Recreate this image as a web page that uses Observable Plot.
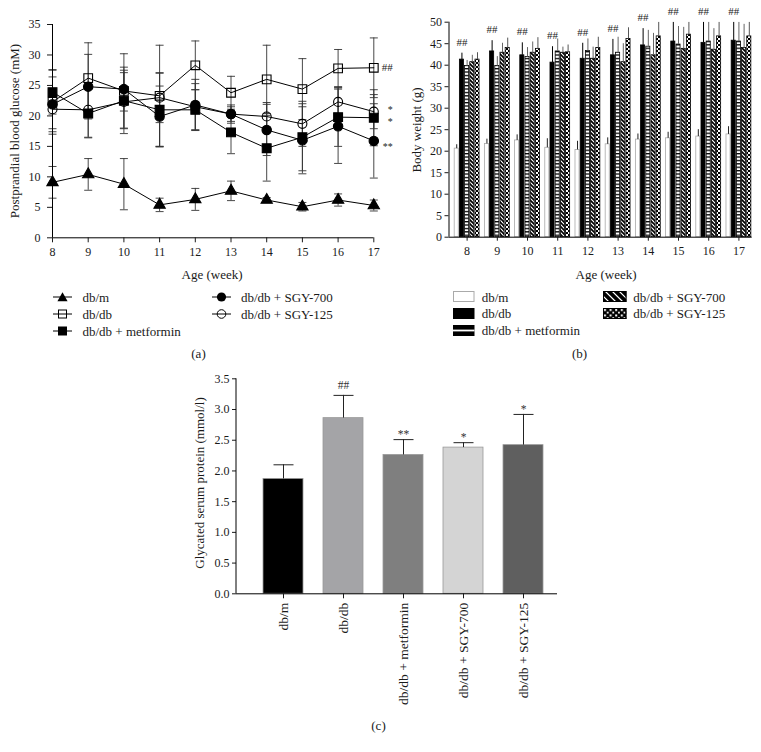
<!DOCTYPE html>
<html><head><meta charset="utf-8">
<script src="https://cdn.jsdelivr.net/npm/d3@7"></script>
<script src="https://cdn.jsdelivr.net/npm/@observablehq/plot@0.6"></script>
<style>
body{margin:0;background:#fff;}
#root{position:relative;width:761px;height:752px;overflow:hidden;font-family:"Liberation Serif","Times New Roman",serif;color:#1a1a1a;background:#fff;}
.lbl{position:absolute;white-space:nowrap;line-height:1;font-family:"Liberation Serif","Times New Roman",serif;font-weight:normal;color:#1a1a1a;}
.sw{position:absolute;overflow:visible;}
</style></head><body><div id="root"></div>
<script>
// ---------- shared ----------
const weeks  = [8, 9, 10, 11, 12, 13, 14, 15, 16, 17];
const groups = ["db/m", "db/db", "db/db + metformin", "db/db + SGY-700", "db/db + SGY-125"];

// ---------- (a) Postprandial blood glucose (mM): mean and SD ----------
const glcDbm    = [9.1, 10.4, 8.8, 5.4, 6.3, 7.7, 6.2, 5.1, 6.2, 5.3];
const glcDbmSD  = [2.6, 2.6, 4.2, 1.1, 1.8, 1.6, 0.4, 0.7, 1.0, 0.9];
const glcDbdb   = [22.3, 26.2, 24.1, 23.3, 28.3, 23.8, 26.0, 24.4, 27.8, 27.9];
const glcDbdbSD = [5.3, 5.8, 6.1, 8.3, 4.0, 2.7, 5.6, 5.0, 3.1, 4.9];
const glcMet    = [23.9, 20.4, 22.5, 21.0, 21.0, 17.3, 14.7, 16.5, 19.8, 19.7];
const glcMetSD  = [3.6, 4.0, 4.6, 6.0, 3.3, 3.5, 5.4, 5.5, 4.8, 4.6];
const glc700    = [21.9, 24.8, 24.4, 19.9, 21.8, 20.3, 17.7, 16.0, 18.3, 15.9];
const glc700SD  = [4.5, 5.3, 3.6, 5.0, 4.2, 1.5, 4.2, 5.5, 6.1, 6.1];
const glc125    = [21.1, 21.0, 22.3, 23.0, 21.5, 20.3, 19.9, 18.7, 22.3, 20.7];
const glc125SD  = [3.2, 4.5, 5.2, 4.1, 3.8, 1.2, 2.3, 3.7, 2.5, 2.8];
const glcTicks  = [0, 5, 10, 15, 20, 25, 30, 35];
const glcSigGroup = [1, 4, 2, 3];          // index into groups, marked at last week
const glcSigLabel = ["##", "*", "*", "**"];

// ---------- (b) Body weight (g): mean and SD ----------
const bwDbm    = [20.6, 21.7, 22.5, 20.8, 20.3, 21.6, 22.7, 23.0, 23.4, 23.9];
const bwDbmSD  = [0.9, 1.1, 1.3, 2.1, 2.0, 1.5, 1.3, 1.4, 1.6, 1.8];
const bwDbdb   = [41.3, 43.2, 42.3, 40.6, 41.5, 42.3, 44.6, 45.5, 45.2, 45.7];
const bwDbdbSD = [1.5, 2.5, 2.9, 3.7, 3.6, 3.7, 3.9, 4.5, 4.8, 4.3];
const bwMet    = [39.8, 39.8, 41.9, 43.2, 43.3, 42.9, 44.3, 44.8, 45.5, 45.5];
const bwMetSD  = [1.3, 2.2, 2.2, 2.9, 2.8, 3.6, 3.8, 4.2, 4.5, 4.5];
const bw700    = [40.7, 42.9, 42.9, 42.9, 41.5, 40.7, 42.3, 43.8, 43.6, 44.0];
const bw700SD  = [1.6, 2.2, 2.5, 1.3, 2.7, 4.3, 5.1, 5.0, 4.9, 5.5];
const bw125    = [41.3, 44.0, 43.8, 43.0, 44.0, 46.1, 46.7, 47.1, 46.7, 46.7];
const bw125SD  = [1.6, 2.3, 2.6, 1.7, 2.5, 2.6, 3.3, 2.9, 3.3, 3.3];
const bwTicks  = [0, 5, 10, 15, 20, 25, 30, 35, 40, 45, 50];
const bwSigLabel = "##";                   // above db/db at every week

// ---------- (c) Glycated serum protein (mmol/l) ----------
const gspMean  = [1.87, 2.86, 2.26, 2.38, 2.42];
const gspSD    = [0.23, 0.37, 0.25, 0.08, 0.50];
const gspSig   = ["", "##", "**", "*", "*"];
const gspTicks = [0, 0.5, 1.0, 1.5, 2.0, 2.5, 3.0, 3.5];

// ---------- layout ----------
const W = 761, H = 752;
const root = document.getElementById("root");
const svgStyle = "position:absolute;left:0;top:0;max-width:none;background:transparent;overflow:visible;font-family:'Liberation Serif','Times New Roman',serif;font-size:12px;color:#1a1a1a;";
const cap = {draw(ctx, size) { const r = Math.sqrt(size / Math.PI); ctx.moveTo(-r, 0); ctx.lineTo(r, 0); }};

function addText(txt, x, y, opts = {}) {
  const d = document.createElement("div");
  d.className = "lbl";
  d.textContent = txt;
  d.style.left = x + "px";
  d.style.top = y + "px";
  d.style.fontSize = (opts.size || 13) + "px";
  d.style.transform = opts.rotate ? "translate(-50%,-50%) rotate(-90deg)"
    : opts.start ? "translate(0,-50%)" : "translate(-50%,-50%)";
  root.appendChild(d);
}
function addSvg(markup, x, y, w, h) {
  const ns = "http://www.w3.org/2000/svg";
  const s = document.createElementNS(ns, "svg");
  s.setAttribute("class", "sw");
  s.setAttribute("width", w); s.setAttribute("height", h);
  s.style.left = x + "px"; s.style.top = y + "px";
  s.innerHTML = markup;
  root.appendChild(s);
}

// ================= Panel (a) =================
const glcMeans = [glcDbm, glcDbdb, glcMet, glc700, glc125];
const glcSDs = [glcDbmSD, glcDbdbSD, glcMetSD, glc700SD, glc125SD];
const rowsA = [];
groups.forEach((g, i) => weeks.forEach((w, j) => rowsA.push({
  group: g, gi: i, week: w, mean: glcMeans[i][j],
  lo: glcMeans[i][j] - glcSDs[i][j], hi: glcMeans[i][j] + glcSDs[i][j]
})));
const glcSymbols = ["triangle", "square", "square", "circle", "circle"];
const glcFilled = [true, false, true, true, false];
const glcR = [4.2, 4.9, 5.0, 4.7, 4.5];
const lastIdx = weeks.length - 1;
const sigA = glcSigGroup.map((gi, k) => ({week: weeks[lastIdx], mean: glcMeans[gi][lastIdx], label: glcSigLabel[k], gi}));
// vertical nudges so the stacked markers do not collide
const sigDyA = {1: 0, 4: -2, 2: 4.5, 3: 6};

const plotA = Plot.plot({
  width: W, height: H,
  marginLeft: 52, marginRight: W - 373.3, marginTop: 24, marginBottom: H - 237.3,
  style: svgStyle,
  x: {domain: [8, 17]}, y: {domain: [0, 35]},
  marks: [
    Plot.ruleX(rowsA, {x: "week", y1: "lo", y2: "hi", stroke: "#333", strokeWidth: 0.9}),
    Plot.dot(rowsA, {x: "week", y: "lo", symbol: cap, r: 4, stroke: "#333", strokeWidth: 0.9}),
    Plot.dot(rowsA, {x: "week", y: "hi", symbol: cap, r: 4, stroke: "#333", strokeWidth: 0.9}),
    Plot.line(rowsA, {x: "week", y: "mean", z: "group", stroke: "#000", strokeWidth: 1}),
    ...groups.map((g, i) => Plot.dot(rowsA.filter(d => d.gi === i), {
      x: "week", y: "mean", symbol: glcSymbols[i], r: glcR[i],
      fill: glcFilled[i] ? "#000" : "none", stroke: "#000", strokeWidth: 1.1
    })),
    Plot.ruleY([0], {stroke: "#000"}),
    Plot.ruleX([8], {stroke: "#000"}),
    Plot.axisX({ticks: weeks, tickFormat: d => String(d), tickSize: 5, tickPadding: 5, label: null}),
    Plot.axisY({ticks: glcTicks, tickFormat: d => String(d), tickSize: 5, tickPadding: 7, label: null}),
    ...sigA.map(s => Plot.text([s], {
      x: "week", y: "mean", text: "label", textAnchor: "end", dx: 19, dy: sigDyA[s.gi],
      fontSize: s.label === "##" ? 11 : 10, fill: "#222"
    }))
  ]
});
root.appendChild(plotA);

addText("Postprandial blood glucose (mM)", 14, 131, {rotate: true});
addText("Age (week)", 212, 274);

// legend (a)
const legA = [
  {x: 53, y: 297, sym: '<path d="M9.5,1.2 L14.6,10.3 L4.4,10.3 Z" fill="#000"/>', text: groups[0]},
  {x: 53, y: 313.5, sym: '<rect x="5.5" y="2" width="8" height="8" fill="none" stroke="#000"/>', text: groups[1]},
  {x: 53, y: 330.5, sym: '<rect x="5" y="1.5" width="9" height="9" fill="#000"/>', text: groups[2]},
  {x: 211.5, y: 297, sym: '<circle cx="9.5" cy="6" r="4.6" fill="#000"/>', text: groups[3]},
  {x: 211.5, y: 313.5, sym: '<circle cx="9.5" cy="6" r="4.3" fill="none" stroke="#000"/>', text: groups[4]}
];
legA.forEach(l => {
  addSvg('<line x1="0" x2="19" y1="6" y2="6" stroke="#000" stroke-width="1"/>' + l.sym, l.x, l.y - 6, 19, 12);
  addText(l.text, l.x + 29.5, l.y, {start: true});
});
addText("(a)", 198.5, 353);

// ================= Panel (b) =================
const bwMeans = [bwDbm, bwDbdb, bwMet, bw700, bw125];
const bwSDs = [bwDbmSD, bwDbdbSD, bwMetSD, bw700SD, bw125SD];
const slot = 0.172, barW = 0.135, bwMax = 50;
const rowsB = [];
groups.forEach((g, i) => weeks.forEach((w, j) => {
  const xc = w + (i - 2) * slot;
  rowsB.push({group: g, gi: i, week: w, xc, x1: xc - barW / 2, x2: xc + barW / 2, base: 0,
    mean: bwMeans[i][j], hi: bwMeans[i][j] + bwSDs[i][j]});
}));
const bwFills = ["#ffffff", "#000000", "url(#patH)", "url(#patD)", "url(#patC)"];
const bwStrokes = ["#a8a8a8", "#000000", "#000000", "#000000", "#000000"];
const bwErr = ["#222", "#000", "#666", "#666", "#555"];
const sigB = rowsB.filter(d => d.gi === 1).map(d => ({xc: d.xc, y: Math.min(d.hi, bwMax), label: bwSigLabel}));

const plotB = Plot.plot({
  width: W, height: H,
  marginLeft: 448.5, marginRight: W - 751.7, marginTop: 21.7, marginBottom: H - 236.7,
  style: svgStyle,
  x: {domain: [7.4, 17.44]}, y: {domain: [0, bwMax]},
  marks: [
    ...groups.map((g, i) => Plot.rect(rowsB.filter(d => d.gi === i), {
      x1: "x1", x2: "x2", y1: "base", y2: "mean", fill: bwFills[i], stroke: bwStrokes[i], strokeWidth: 0.8
    })),
    ...groups.map((g, i) => Plot.ruleX(rowsB.filter(d => d.gi === i), {
      x: "xc", y1: "mean", y2: "hi", stroke: bwErr[i], strokeWidth: 1, clip: true
    })),
    Plot.ruleY([0], {stroke: "#000"}),
    Plot.ruleX([7.4], {stroke: "#000"}),
    Plot.axisX({ticks: weeks, tickFormat: d => String(d), tickSize: 4, tickPadding: 5, label: null}),
    Plot.axisY({ticks: bwTicks, tickFormat: d => String(d), tickSize: 4, tickPadding: 3, label: null}),
    Plot.text(sigB, {x: "xc", y: "y", text: "label", dy: -11, fontSize: 11, fill: "#222"})
  ]
});
d3.select(plotB).insert("defs", ":first-child").html(`
  <pattern id="patH" patternUnits="userSpaceOnUse" width="4" height="3.4">
    <rect width="4" height="3.4" fill="#000"/><rect y="1.3" width="4" height="2.1" fill="#fff"/>
  </pattern>
  <pattern id="patD" patternUnits="userSpaceOnUse" width="4" height="4">
    <rect width="4" height="4" fill="#000"/>
    <path d="M0,0 L4,4 M-1,3 L1,5 M3,-1 L5,1" stroke="#fff" stroke-width="1.2"/>
  </pattern>
  <pattern id="patC" patternUnits="userSpaceOnUse" width="4" height="4">
    <rect width="4" height="4" fill="#000"/>
    <rect width="2" height="2" fill="#fff"/><rect x="2" y="2" width="2" height="2" fill="#fff"/>
  </pattern>`);
root.appendChild(plotB);

addText("Body weight (g)", 416, 130, {rotate: true});
addText("Age (week)", 606, 274);

// legend (b)
const legB = [
  {x: 453, y: 296.5, w: 21.5, sym: '<rect x="0.5" y="0.5" width="20.5" height="10" fill="#fff" stroke="#aaa"/>', text: groups[0]},
  {x: 453, y: 313.3, w: 21.5, sym: '<rect x="0" y="0" width="21.5" height="11" fill="#000"/>', text: groups[1]},
  {x: 453, y: 330, w: 21.5, sym: '<rect x="0" y="0" width="21.5" height="11" fill="#000"/><rect x="0" y="4.6" width="21.5" height="1.8" fill="#fff"/>', text: groups[2]},
  {x: 603.3, y: 296.5, w: 23.5, sym: '<defs><clipPath id="cpD"><rect width="23.5" height="11"/></clipPath></defs><rect x="0" y="0" width="23.5" height="11" fill="#000"/><g clip-path="url(#cpD)" stroke="#fff" stroke-width="1.2"><path d="M2,0 L13,11 M9,0 L20,11 M16,0 L27,11 M-5,0 L6,11"/></g><rect x="0.5" y="0.5" width="22.5" height="10" fill="none" stroke="#000"/>', text: groups[3]},
  {x: 603.3, y: 313.3, w: 23.5, sym: '<defs><pattern id="legC" patternUnits="userSpaceOnUse" width="5.6" height="5.5"><rect width="5.6" height="5.5" fill="#000"/><rect x="1" y="1" width="2" height="2" fill="#fff"/><rect x="3.8" y="3.75" width="2" height="2" fill="#fff"/></pattern></defs><rect x="0" y="0" width="23.5" height="11" fill="url(#legC)"/><rect x="0.5" y="0.5" width="22.5" height="10" fill="none" stroke="#000"/>', text: groups[4]}
];
legB.forEach(l => {
  addSvg(l.sym, l.x, l.y - 5.5, l.w, 11);
  addText(l.text, l.x + (l.x < 500 ? 28.7 : 30), l.y, {start: true});
});
addText("(b)", 579.5, 353);

// ================= Panel (c) =================
const gspColors = ["#000000", "#a4a4a7", "#7f7f7f", "#d4d4d4", "#5f5f5f"];
const rowsC = groups.map((g, i) => ({group: g, mean: gspMean[i], hi: gspMean[i] + gspSD[i], sig: gspSig[i]}));
const plotC = Plot.plot({
  width: W, height: H,
  marginLeft: 236, marginRight: W - 557, marginTop: 378.3, marginBottom: H - 593.3,
  style: svgStyle,
  x: {domain: groups, range: [251.7, 554.7], paddingInner: 0.33, paddingOuter: 0.165},
  y: {domain: [0, 3.5]},
  color: {domain: groups, range: gspColors},
  marks: [
    Plot.barY(rowsC, {x: "group", y: "mean", fill: "group", stroke: "#9a9a9a", strokeWidth: 0.8}),
    Plot.ruleX(rowsC, {x: "group", y1: "mean", y2: "hi", stroke: "#222", strokeWidth: 1}),
    Plot.dot(rowsC, {x: "group", y: "hi", symbol: cap, r: 10, stroke: "#222", strokeWidth: 1}),
    Plot.text(rowsC.filter(d => d.sig.startsWith("#")), {x: "group", y: "hi", text: "sig", dy: -10, fontSize: 11.5, fill: "#333"}),
    Plot.text(rowsC.filter(d => d.sig.startsWith("*")), {x: "group", y: "hi", text: "sig", dy: -5, fontSize: 11.5, fill: "#333"}),
    Plot.ruleY([0], {stroke: "#000"}),
    Plot.axisX({tickRotate: -90, tickSize: 5, tickPadding: 4, fontSize: 13.5, label: null}),
    Plot.axisY({ticks: gspTicks, tickFormat: d3.format(".1f"), tickSize: 4, tickPadding: 3, label: null})
  ]
});
{
  const ys = plotC.scale("y").range;
  d3.select(plotC).append("line").attr("x1", 236).attr("x2", 236)
    .attr("y1", ys[0]).attr("y2", ys[1]).attr("stroke", "#000");
}
root.appendChild(plotC);

addText("Glycated serum protein (mmol/l)", 199, 483, {rotate: true});
addText("(c)", 378.5, 725);
</script>
</body></html>
